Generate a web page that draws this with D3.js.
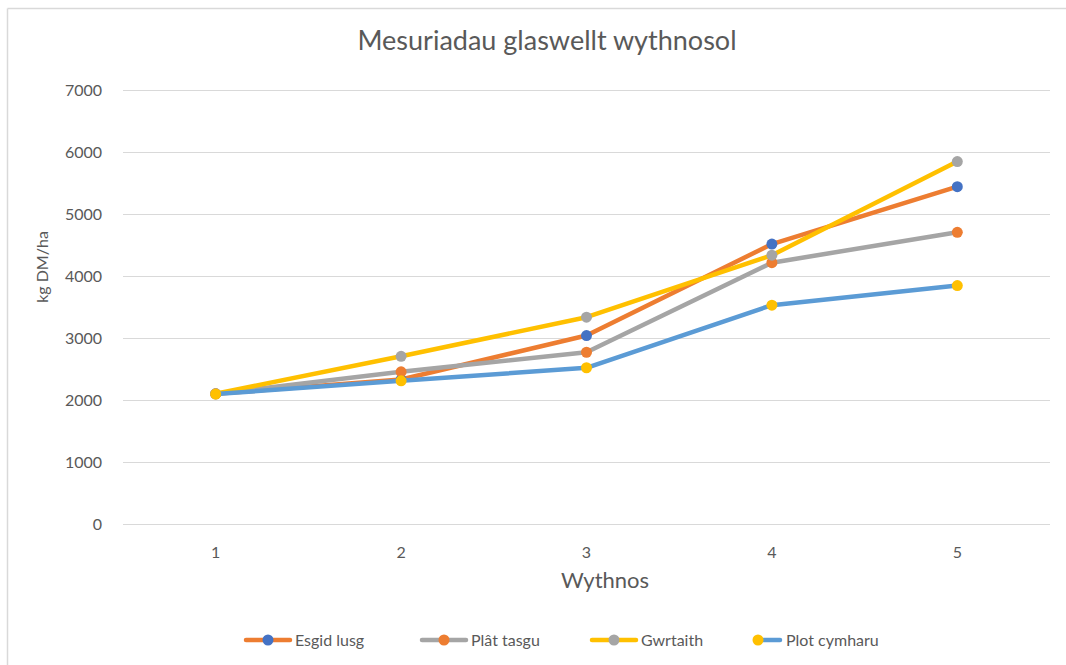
<!DOCTYPE html>
<html>
<head>
<meta charset="utf-8">
<script src="https://cdn.jsdelivr.net/npm/d3@7"></script>
<style>
  body { margin: 0; background: #fff; }
  text { font-family: Lato, "Open Sans", sans-serif; fill: #595959; }
</style>
</head>
<body>
<svg id="chart" width="1066" height="665"></svg>
<script>
// weeks along the x axis
const weeks = [1, 2, 3, 4, 5];
const yTicks = [0, 1000, 2000, 3000, 4000, 5000, 6000, 7000];

const seriesNames = ['Esgid lusg', 'Plât tasgu', 'Gwrtaith', 'Plot cymharu'];
const esgidLusg   = [2100, 2330, 3040, 4515, 5440];
const platTasgu   = [2100, 2455, 2770, 4215, 4705];
const gwrtaith    = [2100, 2705, 3335, 4335, 5845];
const plotCymharu = [2095, 2310, 2520, 3530, 3845];

// odd colouring from the source: line and marker don't share a colour
const lineColors   = ['#ED7D31', '#A5A5A5', '#FFC000', '#5B9BD5'];
const markerColors = ['#4472C4', '#ED7D31', '#A5A5A5', '#FFC000'];

const allSeries = [esgidLusg, platTasgu, gwrtaith, plotCymharu];

const svg = d3.select('#chart');

// chart frame (left + top edges visible)
svg.append('line').attr('x1', 7.5).attr('y1', 8.5).attr('x2', 1066).attr('y2', 8.5)
    .attr('stroke', '#d9d9d9').attr('stroke-width', 1.5);
svg.append('line').attr('x1', 7.5).attr('y1', 8.5).attr('x2', 7.5).attr('y2', 665)
    .attr('stroke', '#d9d9d9').attr('stroke-width', 1.5);

var margin = {top: 90, left: 123, right: 16, bottom: 141},
    width = 1066 - margin.left - margin.right,
    height = 665 - margin.top - margin.bottom;

var x = d3.scaleBand()
    .domain(weeks)
    .range([0, width]);

var y = d3.scaleLinear()
    .domain([0, 7000])
    .range([height, 0]);

var g = svg.append('g')
    .attr('transform', 'translate(' + margin.left + ',' + margin.top + ')');

// gridlines
g.append('g')
    .selectAll('line')
    .data(yTicks)
  .enter().append('line')
    .attr('x1', 0)
    .attr('x2', width)
    .attr('y1', d => y(d) + 0.5)
    .attr('y2', d => y(d) + 0.5)
    .attr('stroke', '#d9d9d9')
    .attr('stroke-width', 1.2);

// y axis labels
var yAxis = g.append('g')
    .attr('transform', 'translate(-18,0)')
    .call(d3.axisLeft(y).tickValues(yTicks).tickSize(0).tickFormat(d3.format('d')));
yAxis.select('.domain').remove();
yAxis.selectAll('text')
    .attr('font-size', 16)
    .style('font-family', 'Lato, "Open Sans", sans-serif')
    .attr('fill', '#595959');

// x axis labels
var xAxis = g.append('g')
    .attr('transform', 'translate(0,' + (height + 20) + ')')
    .call(d3.axisBottom(x).tickSize(0));
xAxis.select('.domain').remove();
xAxis.selectAll('text')
    .attr('font-size', 16)
    .style('font-family', 'Lato, "Open Sans", sans-serif')
    .attr('fill', '#595959');

var cx = d => x(d) + x.bandwidth() / 2;

var line = d3.line()
    .x((d, i) => cx(weeks[i]))
    .y(d => y(d));

allSeries.forEach(function(vals, s) {
    g.append('path')
        .datum(vals)
        .attr('fill', 'none')
        .attr('stroke', lineColors[s])
        .attr('stroke-width', 4.5)
        .attr('stroke-linejoin', 'round')
        .attr('stroke-linecap', 'round')
        .attr('d', line);

    g.selectAll('.m' + s)
        .data(vals)
      .enter().append('circle')
        .attr('class', 'm' + s)
        .attr('cx', (d, i) => cx(weeks[i]))
        .attr('cy', d => y(d))
        .attr('r', 5.5)
        .attr('fill', markerColors[s]);
});

// titles
svg.append('text')
    .attr('x', 547).attr('y', 50)
    .attr('text-anchor', 'middle')
    .attr('font-size', 27)
    .text('Mesuriadau glaswellt wythnosol');

svg.append('text')
    .attr('x', 605).attr('y', 588)
    .attr('text-anchor', 'middle')
    .attr('font-size', 22)
    .text('Wythnos');

svg.append('text')
    .attr('transform', 'translate(48,267) rotate(-90)')
    .attr('text-anchor', 'middle')
    .attr('font-size', 16)
    .text('kg DM/ha');

// legend
var legendX = [246, 422, 592, 758];
var legend = svg.append('g')
    .selectAll('g')
    .data(seriesNames)
  .enter().append('g')
    .attr('transform', (d, i) => 'translate(' + legendX[i] + ',640)');

legend.append('line')
    .attr('x1', 0)
    .attr('x2', (d, i) => i === 3 ? 22 : 44)
    .attr('stroke', (d, i) => lineColors[i])
    .attr('stroke-width', 4.5)
    .attr('stroke-linecap', 'round');

legend.append('circle')
    .attr('cx', (d, i) => i === 3 ? 0 : 22)
    .attr('r', 5.5)
    .attr('fill', (d, i) => markerColors[i]);

legend.append('text')
    .attr('x', (d, i) => i === 3 ? 28 : 49)
    .attr('dy', '0.35em')
    .attr('font-size', 16)
    .text(d => d);
</script>
</body>
</html>
